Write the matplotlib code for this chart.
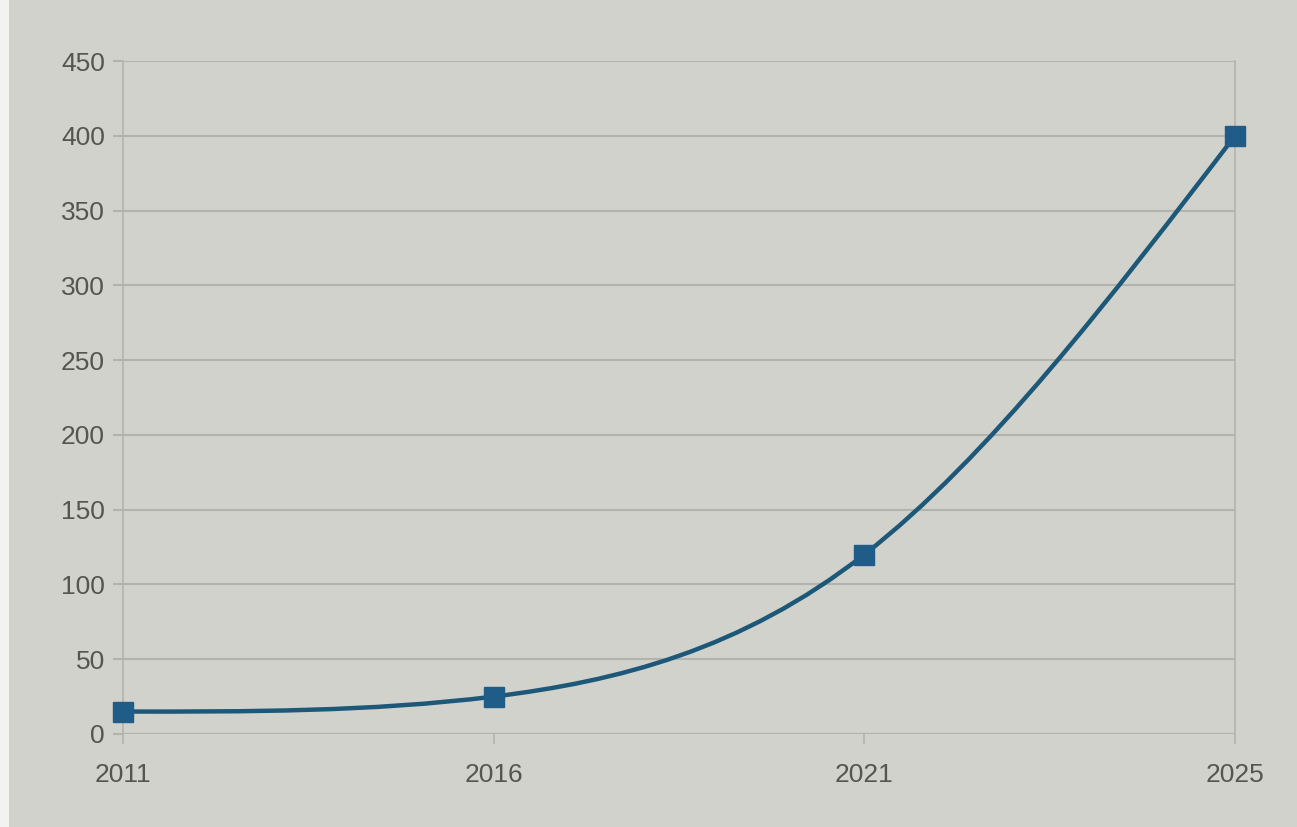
import numpy as np
import matplotlib.pyplot as plt
from matplotlib.path import Path
from matplotlib.patches import PathPatch, Rectangle

# datos
anios = ['2011', '2016', '2021', '2025']
valores = [15, 25, 120, 400]
ticks_y = [0, 50, 100, 150, 200, 250, 300, 350, 400, 450]

fondo = '#d2d2cc'
color_linea = '#1d5878'
color_marca = '#1f5c88'
color_texto = '#555552'
color_grilla = '#b3b3ad'

plt.rcParams['font.family'] = ['Liberation Sans', 'DejaVu Sans']

fig = plt.figure(figsize=(12.97, 8.27), dpi=100, facecolor=fondo)
ax = fig.add_axes([0.0948, 0.1125, 0.8574, 0.8137])
ax.set_facecolor(fondo)

x = np.arange(len(anios), dtype=float)
y = np.array(valores, dtype=float)

# spline cúbica natural (como la curva suavizada de LibreOffice) -> segmentos Bezier
n = len(x)
A = np.zeros((n, n))
b = np.zeros(n)
A[0, 0] = A[-1, -1] = 1
for i in range(1, n - 1):
    A[i, i - 1], A[i, i], A[i, i + 1] = 1, 4, 1
    b[i] = 6 * (y[i - 1] - 2 * y[i] + y[i + 1])
M = np.linalg.solve(A, b)
d = np.zeros(n)
for i in range(n - 1):
    d[i] = (y[i + 1] - y[i]) - (2 * M[i] + M[i + 1]) / 6
d[-1] = (y[-1] - y[-2]) + (M[-2] + 2 * M[-1]) / 6

verts = [(x[0], y[0])]
codes = [Path.MOVETO]
for i in range(n - 1):
    verts += [(x[i] + 1 / 3, y[i] + d[i] / 3),
              (x[i + 1] - 1 / 3, y[i + 1] - d[i + 1] / 3),
              (x[i + 1], y[i + 1])]
    codes += [Path.CURVE4] * 3
curva = PathPatch(Path(verts, codes), facecolor='none', edgecolor=color_linea,
                  lw=3.2, transform=ax.transData, zorder=3, clip_on=False)
ax.add_patch(curva)

ax.plot(x, y, linestyle='none', marker='s', markersize=14,
        color=color_marca, zorder=4, clip_on=False)

ax.set_xlim(0, n - 1)
ax.set_ylim(0, 450)
ax.set_xticks(x)
ax.set_xticklabels(anios)
ax.set_yticks(ticks_y)

ax.grid(axis='y', color=color_grilla, lw=1.5)
ax.set_axisbelow(True)
for lado in ['top', 'bottom']:
    ax.spines[lado].set_visible(False)
for lado in ['left', 'right']:
    ax.spines[lado].set_color(color_grilla)
    ax.spines[lado].set_linewidth(1.2)
ax.axhline(0, color=color_grilla, lw=1.5, zorder=1)

ax.tick_params(axis='y', length=7, width=1.5, color=color_grilla, pad=6,
               labelsize=19, labelcolor=color_texto)
ax.tick_params(axis='x', length=7, width=1.2, color=color_grilla, pad=14,
               labelsize=19, labelcolor=color_texto)

# borde blanco de la foto a la izquierda
fig.patches.append(Rectangle((0, 0), 9 / 1297, 1, transform=fig.transFigure,
                             facecolor='#f2f2f0', edgecolor='none'))

plt.savefig('out.png', dpi=100, facecolor=fondo)
